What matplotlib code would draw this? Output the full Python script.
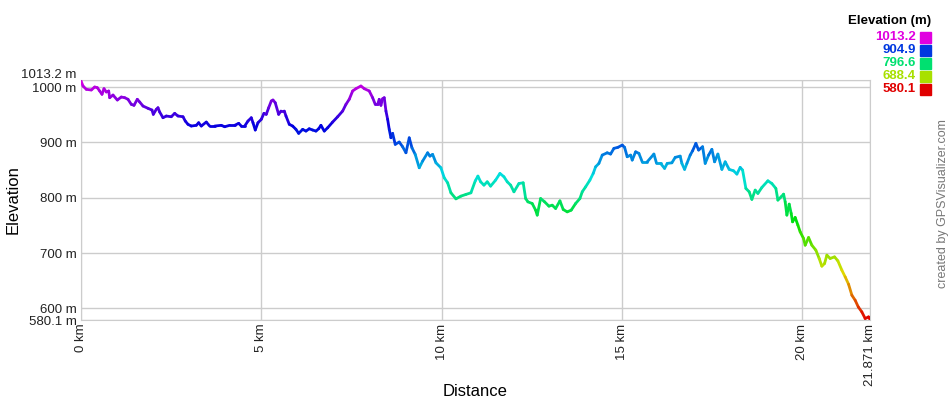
import numpy as np
import matplotlib.pyplot as plt
from matplotlib.collections import LineCollection
from matplotlib.colors import hsv_to_rgb
from matplotlib.transforms import ScaledTranslation

plt.rcParams['font.family'] = ['Liberation Sans', 'DejaVu Sans']

# profile: distance (km), elevation (m)
dist = [0.0, 0.066, 0.158, 0.296, 0.391, 0.463, 0.529, 0.593, 0.648, 0.712,
        0.778, 0.806, 0.898, 1.017, 1.127, 1.222, 1.313, 1.404, 1.479, 1.571,
        1.637, 1.729, 1.867, 1.978, 2.014, 2.097, 2.144, 2.191, 2.283, 2.374,
        2.512, 2.607, 2.698, 2.837, 2.900, 2.975, 3.066, 3.205, 3.271, 3.343,
        3.482, 3.576, 3.715, 3.898, 3.992, 4.130, 4.269, 4.380, 4.452, 4.546,
        4.637, 4.729, 4.776, 4.839, 4.914, 5.006, 5.080, 5.144, 5.211, 5.283,
        5.330, 5.393, 5.487, 5.551, 5.643, 5.690, 5.781, 5.875, 5.967, 6.042,
        6.152, 6.244, 6.335, 6.429, 6.521, 6.596, 6.659, 6.751, 6.845, 6.983,
        7.122, 7.260, 7.352, 7.443, 7.537, 7.629, 7.767, 7.859, 7.997, 8.091,
        8.163, 8.230, 8.274, 8.321, 8.368, 8.413, 8.460, 8.507, 8.551, 8.598,
        8.645, 8.717, 8.828, 8.922, 9.014, 9.105, 9.180, 9.271, 9.382, 9.476,
        9.615, 9.679, 9.753, 9.845, 9.983, 10.075, 10.169, 10.260, 10.399, 10.537,
        10.676, 10.814, 10.934, 11.008, 11.083, 11.175, 11.266, 11.360, 11.499, 11.618,
        11.729, 11.820, 11.914, 12.006, 12.144, 12.263, 12.330, 12.393, 12.512, 12.607,
        12.651, 12.745, 12.856, 12.975, 13.066, 13.161, 13.280, 13.371, 13.482, 13.593,
        13.715, 13.834, 13.898, 13.992, 14.111, 14.202, 14.269, 14.360, 14.452, 14.590,
        14.684, 14.776, 14.886, 15.006, 15.072, 15.144, 15.238, 15.283, 15.377, 15.468,
        15.560, 15.698, 15.884, 15.958, 16.069, 16.180, 16.252, 16.382, 16.474, 16.612,
        16.659, 16.734, 16.798, 16.889, 16.956, 17.047, 17.122, 17.233, 17.305, 17.399,
        17.490, 17.565, 17.657, 17.767, 17.859, 17.970, 18.091, 18.183, 18.274, 18.341,
        18.432, 18.524, 18.598, 18.690, 18.765, 18.875, 19.042, 19.152, 19.263, 19.319,
        19.410, 19.477, 19.521, 19.568, 19.632, 19.687, 19.726, 19.798, 19.873, 19.936,
        20.030, 20.075, 20.169, 20.260, 20.371, 20.463, 20.537, 20.612, 20.676, 20.767,
        20.889, 20.981, 21.091, 21.183, 21.277, 21.369, 21.460, 21.546, 21.645, 21.737,
        21.831, 21.871]
elev = [1013.2, 1001.8, 995.8, 994.6, 1000.0, 998.8, 992.8, 986.8, 997.0, 991.0,
        992.8, 980.7, 985.5, 976.5, 981.9, 980.7, 977.8, 968.7, 966.9, 977.8,
        972.9, 965.6, 961.5, 958.4, 950.6, 959.6, 962.6, 954.8, 944.5, 947.6,
        946.3, 952.4, 947.6, 946.3, 938.5, 932.6, 929.5, 930.8, 935.5, 929.5,
        936.7, 929.5, 929.5, 930.8, 928.2, 930.8, 930.8, 934.4, 929.5, 929.5,
        938.5, 944.5, 935.5, 922.3, 935.5, 941.6, 952.4, 950.6, 962.6, 974.7,
        976.5, 971.6, 950.6, 956.6, 956.6, 947.6, 932.6, 929.5, 923.5, 916.3,
        923.5, 920.4, 924.6, 922.3, 920.4, 924.6, 930.8, 920.4, 926.4, 936.7,
        946.3, 956.6, 968.7, 977.8, 992.8, 997.0, 1001.8, 997.0, 992.8, 980.7,
        968.7, 968.7, 977.8, 966.9, 978.9, 980.7, 956.6, 941.6, 923.5, 908.3,
        916.3, 896.4, 900.6, 892.1, 881.2, 908.3, 890.3, 878.3, 854.1, 866.2,
        881.2, 875.2, 878.3, 863.1, 854.1, 836.0, 827.0, 808.9, 798.0, 802.9,
        806.0, 808.9, 830.4, 839.1, 828.8, 822.8, 828.8, 821.0, 831.9, 843.9,
        837.9, 828.8, 822.8, 810.7, 825.7, 827.0, 798.6, 792.6, 789.6, 777.6,
        768.6, 798.6, 792.6, 784.8, 786.6, 780.6, 794.4, 778.8, 774.5, 777.6,
        789.6, 798.6, 810.7, 819.7, 831.9, 843.9, 855.9, 862.0, 877.0, 881.2,
        878.9, 889.2, 891.0, 895.1, 891.0, 874.0, 877.0, 868.0, 883.0, 880.1,
        864.9, 864.9, 878.9, 862.0, 862.0, 853.0, 862.0, 863.1, 872.9, 875.2,
        862.0, 851.2, 862.0, 877.0, 884.8, 898.2, 886.1, 892.1, 862.0, 877.0,
        887.4, 864.9, 878.9, 851.2, 864.9, 851.2, 848.7, 842.7, 854.8, 849.9,
        816.8, 810.7, 797.0, 813.8, 807.8, 818.6, 830.6, 825.7, 816.8, 795.7,
        801.7, 806.5, 792.6, 768.6, 788.5, 771.8, 756.5, 764.4, 750.5, 738.4,
        726.4, 714.3, 728.2, 714.3, 705.3, 690.3, 676.4, 681.2, 696.3, 690.3,
        693.2, 686.0, 669.2, 657.1, 643.8, 623.9, 614.9, 602.8, 593.8, 581.9,
        584.8, 580.1]

y_ticks = [580.1, 600, 700, 800, 900, 1000, 1013.2]
y_labels = ['580.1 m', '600 m', '700 m', '800 m', '900 m', '1000 m', '1013.2 m']
x_ticks = [0, 5, 10, 15, 20, 21.871]
x_labels = ['0 km', '5 km', '10 km', '15 km', '20 km', '21.871 km']
legend_vals = ['1013.2', '904.9', '796.6', '688.4', '580.1']

emin, emax = 580.1, 1013.2


def elev_color(e):
    # red at the bottom, through green and blue, to magenta at the top
    f = (e - emin) / (emax - emin)
    return hsv_to_rgb([f * 300 / 360, 1.0, 0.88])


fig = plt.figure(figsize=(9.5, 4), dpi=100)
ax = fig.add_axes([80.6 / 950, 80.5 / 400, 789.4 / 950, 239.8 / 400])

x = np.array(dist)
y = np.array(elev)
pts = np.column_stack([x, y]).reshape(-1, 1, 2)
segs = np.concatenate([pts[:-1], pts[1:]], axis=1)
cols = [elev_color((a + b) / 2) for a, b in zip(y[:-1], y[1:])]
lc = LineCollection(segs, colors=cols, linewidths=2.0, capstyle='round', zorder=3)
ax.add_collection(lc)

ax.set_xlim(0, 21.871)
ax.set_ylim(emin, emax)
ax.set_xticks(x_ticks)
ax.set_xticklabels(x_labels, rotation=90, fontsize=9.5)
ax.set_yticks(y_ticks)
ax.set_yticklabels(y_labels, fontsize=9.5)
ax.tick_params(length=0, pad=3, colors='#222222')
ax.grid(color='#cccccc', linewidth=1)
for s in ax.spines.values():
    s.set_color('#cccccc')

# nudge the end labels apart like the original
ylabs = ax.get_yticklabels()
ylabs[-1].set_transform(ylabs[-1].get_transform() + ScaledTranslation(0, 6 / 100, fig.dpi_scale_trans))
ylabs[0].set_transform(ylabs[0].get_transform() + ScaledTranslation(0, -1 / 100, fig.dpi_scale_trans))

fig.text(475 / 950, 1 - 392 / 400, 'Distance', ha='center', va='center', fontsize=12)
fig.text(13 / 950, 1 - 200 / 400, 'Elevation', ha='center', va='center',
         rotation=90, fontsize=12)

fig.text(931 / 950, 1 - 21 / 400, 'Elevation (m)', ha='right', va='center',
         fontsize=9.5, fontweight='bold')
for i, v in enumerate(legend_vals):
    yy = 1 - (37 + i * 13) / 400
    c = elev_color(float(v))
    fig.text(916 / 950, yy, v, ha='right', va='center', fontsize=9.5,
             fontweight='bold', color=c)
    fig.patches.append(plt.Rectangle((920 / 950, yy - 5.5 / 400), 11 / 950, 11 / 400,
                                     transform=fig.transFigure, color=c))

fig.text(943 / 950, 1 - 204 / 400, 'created by GPSVisualizer.com', rotation=90,
         ha='center', va='center', fontsize=9, color='#777777')

fig.savefig('out.png', dpi=100)
